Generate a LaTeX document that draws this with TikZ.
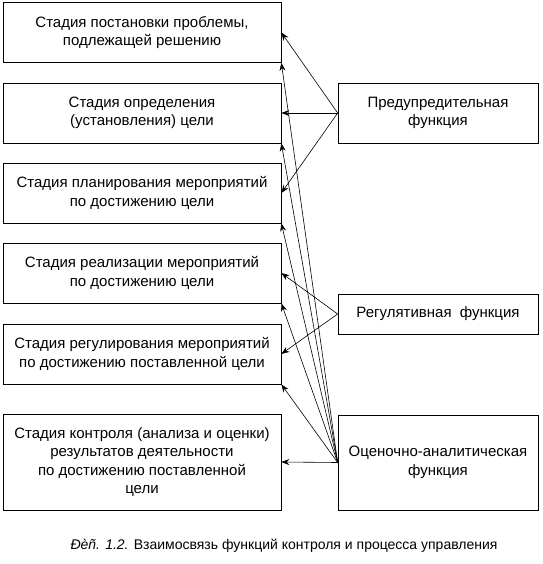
\documentclass[tikz,border=0pt]{standalone}
\usepackage{fontspec}
\setmainfont{Liberation Sans}
\usetikzlibrary{arrows.meta}

\begin{document}
\begin{tikzpicture}[
  x=1pt, y=-1pt,
  font=\fontsize{15}{18.5}\selectfont,
  every node/.style={align=center},
  stage/.style  ={draw, line width=0.7pt, minimum width=278pt, minimum height=60pt, inner sep=0pt},
  func/.style   ={draw, line width=0.7pt, minimum width=200pt, minimum height=60pt, inner sep=0pt},
  link/.style   ={-{Stealth[length=8pt,width=6pt]}, line width=0.6pt},
  capline/.style={font=\fontsize{14}{16}\selectfont},
]
\useasboundingbox (0,0) rectangle (542,564);

% stages of management
\node[stage] (s1) at (142,32.5) {Стадия постановки проблемы,\\ подлежащей решению};
\node[stage] (s2) at (142,113)  {Стадия определения\\ (установления) цели};
\node[stage] (s3) at (142,193)  {Стадия планирования мероприятий\\ по достижению цели};
\node[stage] (s4) at (142,273)  {Стадия реализации мероприятий\\ по достижению цели};
\node[stage] (s5) at (142,354)  {Стадия регулирования мероприятий\\ по достижению поставленной цели};
\node[stage, minimum height=96pt] (s6) at (142,462)
  {Стадия контроля (анализа и оценки)\\ результатов деятельности\\ по достижению поставленной\\ цели};

% control functions
\node[func] (f1) at (438,113) {Предупредительная\\ функция};
\node[func, minimum height=40pt] (f2) at (438,314) {Регулятивная\ \ функция};
\node[func, minimum height=95pt] (f3) at (438,462.5) {Оценочно-аналитическая\\ функция};

\draw[link] (f1.west) -- (s1.east);
\draw[link] (f1.west) -- (s2.east);
\draw[link] (f1.west) -- (s3.east);

\draw[link] (f2.west) -- (s4.east);
\draw[link] (f2.west) -- (s5.east);

\draw[link] (f3.west) -- (s1.south east);
\draw[link] (f3.west) -- (s2.south east);
\draw[link] (f3.west) -- (s3.south east);
\draw[link] (f3.west) -- (s4.south east);
\draw[link] (f3.west) -- (s5.south east);
\draw[link] (f3.west) -- (s6.east);

\node[capline] (caption) at (284,546) {\textit{Ðèñ. 1.2.} Взаимосвязь функций контроля и процесса управления};

\end{tikzpicture}
\end{document}
